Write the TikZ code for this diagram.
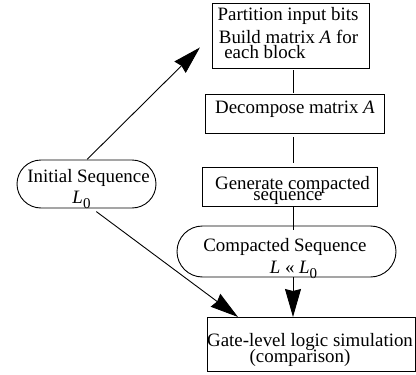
\documentclass[tikz,border=0pt]{standalone}
\usepackage{fontspec}
\setmainfont{Liberation Serif}
\usetikzlibrary{arrows.meta,calc}
\begin{document}
\begin{tikzpicture}[x=1pt,y=-1pt,
  box/.style={draw,line width=0.9pt,rectangle,inner sep=0pt,outer sep=0pt},
  stad/.style={draw,line width=0.9pt,rectangle,rounded corners=#1,inner sep=0pt,outer sep=0pt},
  txt/.style={inner sep=0pt,anchor=base,font=\fontsize{18.9}{20}\selectfont},
  link/.style={line width=0.9pt},
  arr/.style={line width=0.9pt,-{Stealth[length=28pt,width=16pt,inset=2pt]}}]
\useasboundingbox (0,0) rectangle (416,375);
% shapes
\node[box,minimum width=157pt,minimum height=65pt] (b1) at (290.5,35.5) {};
\node[box,minimum width=179pt,minimum height=39pt] (b2) at (294.5,113.5) {};
\node[box,minimum width=175pt,minimum height=39pt] (b3) at (289.5,186.5) {};
\node[stad=25.5pt,minimum width=219pt,minimum height=51pt] (s2) at (286.5,251.5) {};
\node[box,minimum width=208pt,minimum height=54pt] (b4) at (311,344) {};
\node[stad=24pt,minimum width=139pt,minimum height=48pt] (s1) at (86.5,184) {};
% texts
\node[txt] (t1a) at (288,20) {Partition input bits};
\node[txt] (t1b) at (288.5,43) {Build matrix \textit{A} for};
\node[txt] (t1c) at (265,58) {each block};
\node[txt] (t2) at (295,113) {Decompose matrix \textit{A}};
\node[txt] (t3a) at (292.5,189) {Generate compacted};
\node[txt] (t3b) at (288,200.5) {sequence};
\node[txt] (t5a) at (285,251) {Compacted Sequence};
\node[txt] (t5b) at (293.5,273) {\textit{L} « \textit{L}\raisebox{-5pt}{\fontsize{15}{15}\selectfont 0}};
\node[txt] (t4a) at (310,346) {Gate-level logic simulation};
\node[txt] (t4b) at (300,362) {(comparison)};
\node[txt] (t6a) at (88.5,182) {Initial Sequence};
\node[txt] (t6b) at (81.5,203) {\textit{L}\raisebox{-5pt}{\fontsize{15}{15}\selectfont 0}};
% connectors
\coordinate (ln) at (293,0);
\draw[link,shorten <=2pt,shorten >=1pt] (b1.south -| ln) -- (b2.north -| ln);
\draw[link,shorten <=4pt,shorten >=4pt] (b2.south -| ln) -- (b3.north -| ln);
\draw[link,shorten >=-4pt] (b3.south -| ln) -- (s2.north -| ln);
\draw[arr] (s2.south -| ln) -- (b4.north -| ln);
\draw[arr,shorten <=1pt,shorten >=17pt] (s1.north) -- (b1.west);
\draw[arr,shorten <=6pt] ([xshift=5pt]s1.south) -- ([xshift=31pt]b4.north west);
\end{tikzpicture}
\end{document}
